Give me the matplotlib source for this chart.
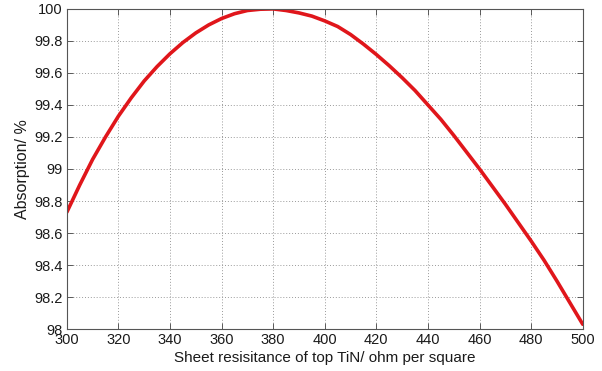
import numpy as np
import matplotlib
matplotlib.use("Agg")
import matplotlib.pyplot as plt

# Sheet resistance (ohm/sq) and absorption (%)
resistance = list(range(300, 501, 5))
absorption = [98.73, 98.90, 99.06, 99.20, 99.33, 99.445, 99.55, 99.64, 99.72, 99.79,
              99.85, 99.90, 99.94, 99.97, 99.99, 99.998, 100.0, 99.99, 99.975, 99.955,
              99.925, 99.89, 99.84, 99.78, 99.715, 99.645, 99.57, 99.49, 99.40, 99.31,
              99.21, 99.105, 99.00, 98.89, 98.78, 98.665, 98.55, 98.43, 98.30, 98.165,
              98.03]

x_ticks = np.arange(300, 501, 20)
y_ticks = np.arange(98.0, 100.01, 0.2)
y_labels = ["98", "98.2", "98.4", "98.6", "98.8", "99", "99.2", "99.4", "99.6", "99.8", "100"]

plt.rcParams["font.family"] = ["Liberation Sans", "DejaVu Sans"]

fig = plt.figure(figsize=(6.02, 3.71), dpi=100)
ax = fig.add_axes([0.111, 0.113, 0.857, 0.863])

ax.plot(resistance, absorption, color="#e0161b", linewidth=2.6,
        solid_capstyle="round", solid_joinstyle="round")

ax.set_xlim(300, 500)
ax.set_ylim(98, 100)
ax.set_xticks(x_ticks)
ax.set_yticks(y_ticks)
ax.set_yticklabels(y_labels)
ax.tick_params(direction="in", top=True, right=True, length=4, width=0.6,
               labelsize=10.5, colors="#444444", labelcolor="#1a1a1a", pad=3)
ax.grid(True, linestyle=(0, (1, 2)), color="#9a9a9a", linewidth=0.7)
for spine in ax.spines.values():
    spine.set_color("#555555")
    spine.set_linewidth(0.8)

ax.set_xlabel("Sheet resisitance of top TiN/ ohm per square", fontsize=11,
              labelpad=3, color="#1a1a1a")
ax.set_ylabel("Absorption/ %", fontsize=11.5, labelpad=3, color="#1a1a1a")

fig.savefig("out.png", dpi=100)
